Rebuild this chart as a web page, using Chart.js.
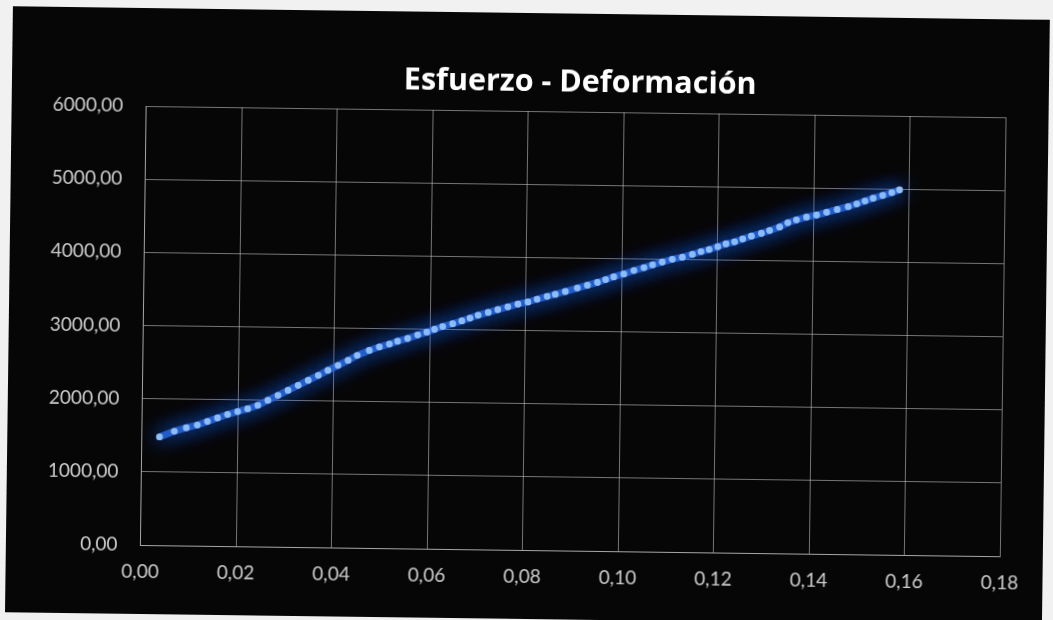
<!DOCTYPE html>
<html>
<head>
<meta charset="utf-8">
<script src="https://cdn.jsdelivr.net/npm/chart.js@4"></script>
<style>
  html, body { margin: 0; padding: 0; background: #f1f1f1; width: 1053px; height: 620px; overflow: hidden; }
  #panel {
    position: absolute; left: 9px; top: 13px; width: 1037px; height: 606px;
    background: #060606;
    transform: rotate(0.75deg); transform-origin: 517px 297px;
  }
  #panel canvas { display: block; }
</style>
</head>
<body>
<div id="panel"><canvas id="grafico"></canvas></div>
<script>
// Ensayo de tracción: deformación unitaria vs. esfuerzo
const deformacion = [
  0.0037, 0.0068, 0.0093, 0.0116, 0.0137, 0.0158, 0.0179, 0.0200, 0.0221, 0.0242,
  0.0263, 0.0284, 0.0305, 0.0326, 0.0347, 0.0368, 0.0388, 0.0409, 0.0430,
  0.0449, 0.0474, 0.0495, 0.0516, 0.0533, 0.0554, 0.0575, 0.0594, 0.0610, 0.0627,
  0.0648, 0.0667, 0.0684, 0.0701, 0.0722, 0.0742, 0.0763, 0.0784, 0.0805, 0.0824,
  0.0845, 0.0862, 0.0883, 0.0908, 0.0929, 0.0950,
  0.0967, 0.0984, 0.1005, 0.1026, 0.1047, 0.1065, 0.1085, 0.1106, 0.1127, 0.1148,
  0.1166, 0.1183, 0.1201, 0.1218, 0.1236, 0.1253, 0.1271, 0.1292, 0.1309, 0.1330,
  0.1347, 0.1365, 0.1386, 0.1407, 0.1428, 0.1450, 0.1473, 0.1491, 0.1508, 0.1525,
  0.1545, 0.1564, 0.1580
];
const esfuerzo = [
  1480, 1560, 1610, 1650, 1700, 1750, 1800, 1840, 1880, 1930,
  2000, 2070, 2140, 2210, 2280, 2350, 2420, 2490, 2560,
  2630, 2700, 2750, 2790, 2830, 2870, 2920, 2960, 3000, 3040,
  3080, 3120, 3160, 3200, 3240, 3280, 3320, 3360, 3390, 3430,
  3470, 3500, 3540, 3590, 3630, 3670,
  3710, 3750, 3790, 3840, 3880, 3920, 3960, 4000, 4030, 4070,
  4110, 4140, 4180, 4220, 4250, 4290, 4330, 4370, 4410, 4460,
  4520, 4560, 4600, 4630, 4670, 4710, 4750, 4790, 4830, 4870,
  4910, 4950, 4990
];
const titulo = 'Esfuerzo - Deformación';
const ejeX = { min: 0, max: 0.18, paso: 0.02 };
const ejeY = { min: 0, max: 6000, paso: 1000 };

const puntos = deformacion.map((d, i) => ({ x: d, y: esfuerzo[i] }));
const formato = v => Number(v).toFixed(2).replace('.', ',');

const colorTexto = '#cdcdcd';
const colorRejilla = 'rgba(205,205,205,0.55)';

// Halo azul alrededor de la serie
const brillo = {
  id: 'brillo',
  beforeDatasetDraw(chart) {
    const ctx = chart.ctx;
    ctx.save();
    ctx.shadowColor = 'rgba(30,105,255,1)';
    ctx.shadowBlur = 20;
  },
  afterDatasetDraw(chart) { chart.ctx.restore(); }
};

// Título centrado sobre el área de trazado
const tituloCentrado = {
  id: 'tituloCentrado',
  afterDraw(chart) {
    const a = chart.chartArea, ctx = chart.ctx;
    ctx.save();
    ctx.font = 'bold 30.5px "Open Sans"';
    ctx.fillStyle = '#ffffff';
    ctx.textAlign = 'center';
    ctx.textBaseline = 'middle';
    ctx.fillText(titulo, (a.left + a.right) / 2 + 4, a.top - 29);
    ctx.restore();
  }
};

new Chart(document.getElementById('grafico'), {
  type: 'scatter',
  data: {
    datasets: [{
      label: titulo,
      data: puntos,
      showLine: true,
      borderColor: 'rgba(45,110,230,0.8)',
      borderWidth: 7,
      pointRadius: 3.4,
      pointBorderWidth: 0,
      pointBackgroundColor: '#93c1f7',
      tension: 0
    }]
  },
  plugins: [brillo, tituloCentrado],
  options: {
    responsive: true,
    maintainAspectRatio: false,
    animation: false,
    events: [],
    layout: { padding: { left: 0, right: 43, top: 98, bottom: 19 } },
    plugins: {
      legend: { display: false },
      title: { display: false },
      tooltip: { enabled: false }
    },
    scales: {
      x: {
        type: 'linear',
        min: ejeX.min, max: ejeX.max,
        afterFit(s) { s.height = 50; },
        border: { display: true, color: colorRejilla, width: 1 },
        grid: { color: colorRejilla, lineWidth: 1, drawTicks: false },
        ticks: {
          stepSize: ejeX.paso,
          padding: 15,
          color: colorTexto,
          font: { family: 'Lato', size: 19 },
          callback: formato
        }
      },
      y: {
        type: 'linear',
        min: ejeY.min, max: ejeY.max,
        afterFit(s) { s.width = 134.5; },
        border: { display: true, color: colorRejilla, width: 1 },
        grid: { color: colorRejilla, lineWidth: 1, drawTicks: false },
        ticks: {
          stepSize: ejeY.paso,
          padding: 23,
          color: colorTexto,
          font: { family: 'Lato', size: 19 },
          callback: formato
        }
      }
    }
  }
});
</script>
</body>
</html>
